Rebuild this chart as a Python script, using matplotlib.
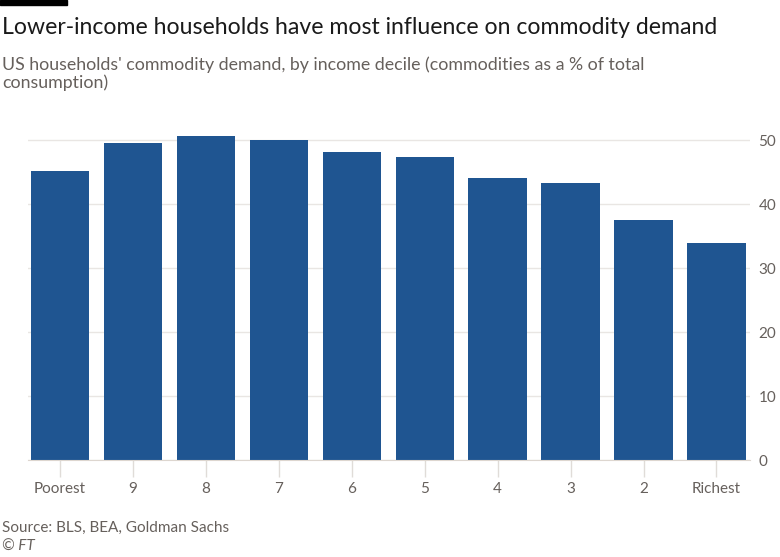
import numpy as np
import matplotlib.pyplot as plt

categories = ['Poorest', '9', '8', '7', '6', '5', '4', '3', '2', 'Richest']
shares = [45.2, 49.5, 50.6, 50.0, 48.1, 47.3, 44.1, 43.3, 37.5, 33.9]
yticks = [0, 10, 20, 30, 40, 50]

plt.rcParams['font.family'] = ['Lato', 'DejaVu Sans']

fig = plt.figure(figsize=(7.8, 5.57), dpi=100)
fig.patch.set_facecolor('white')
ax = fig.add_axes([28 / 780, 1 - 460 / 557, (750 - 28) / 780, (460 - 108) / 557])

x = np.arange(len(categories))
ax.bar(x, shares, width=0.8, color='#1f5591', zorder=3)

ax.set_xlim(-0.44, 9.46)
ax.set_ylim(0, 55)
ax.set_yticks(yticks)
ax.yaxis.tick_right()
ax.yaxis.grid(True, color='#e9e6e3', linewidth=1, zorder=0)
ax.tick_params(axis='y', length=0, pad=6, labelsize=11, labelcolor='#66605c')
ax.set_xticks(x)
ax.set_xticklabels(categories)
ax.tick_params(axis='x', length=12, width=1, color='#e0dcd8', pad=4,
               labelsize=11, labelcolor='#66605c')
for side in ['top', 'right', 'left']:
    ax.spines[side].set_visible(False)
ax.spines['bottom'].set_color('#ddd6cf')
ax.spines['bottom'].set_zorder(4)

fig.patches.append(plt.Rectangle((0, 1 - 5 / 557), 67 / 780, 5 / 557,
                                 transform=fig.transFigure, color='black'))
fig.text(2 / 780, 1 - 27 / 557, 'Lower-income households have most influence on commodity demand',
         fontsize=16.6, color='#1a1a1a', va='center')
fig.text(2 / 780, 1 - 74 / 557, "US households' commodity demand, by income decile (commodities as a % of total\nconsumption)",
         fontsize=12.75, color='#66605c', va='center', linespacing=1.12)
fig.text(2 / 780, 1 - 528 / 557, 'Source: BLS, BEA, Goldman Sachs',
         fontsize=11, color='#66605c', va='center')
fig.text(2 / 780, 1 - 547 / 557, '© FT', fontsize=11, color='#66605c',
         va='center', style='italic')

fig.savefig('out.png', dpi=100)
